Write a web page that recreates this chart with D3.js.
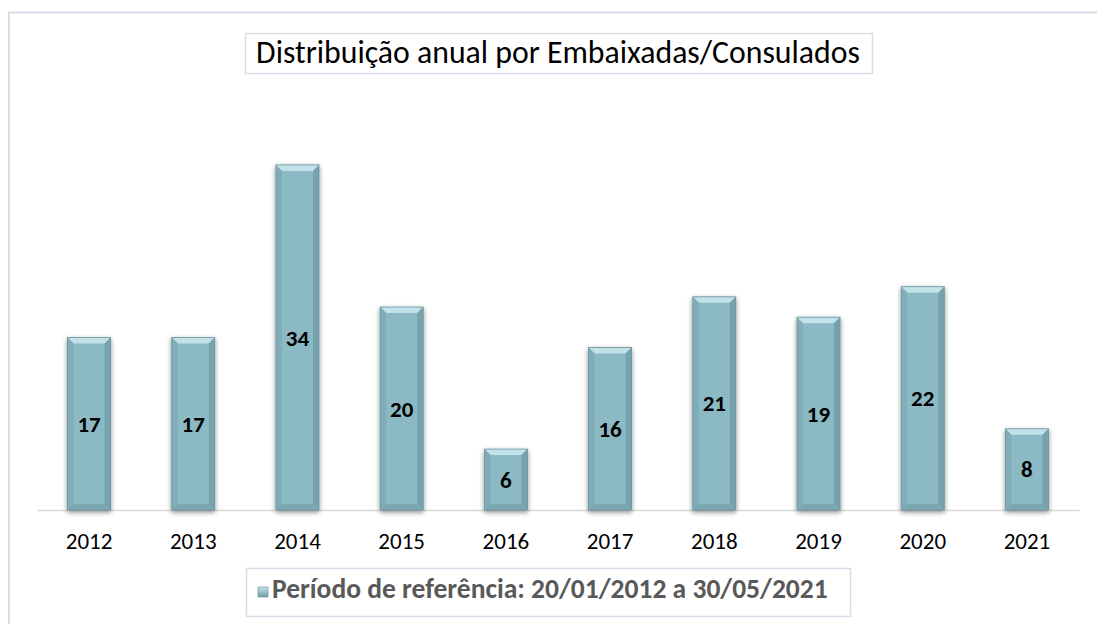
<!DOCTYPE html>
<html>
<head>
<meta charset="utf-8">
<script src="https://cdn.jsdelivr.net/npm/d3@7"></script>
<style>
  body { margin: 0; background: #fff; }
  text { font-family: Carlito, Lato, "Open Sans", sans-serif; }
</style>
</head>
<body>
<div id="chart"></div>
<script>
const years = ["2012", "2013", "2014", "2015", "2016", "2017", "2018", "2019", "2020", "2021"];
const counts = [17, 17, 34, 20, 6, 16, 21, 19, 22, 8];
const chartTitle = "Distribuição anual por Embaixadas/Consulados";
const legendLabel = "Período de referência: 20/01/2012 a 30/05/2021";

const width = 1098, height = 624;
const svg = d3.select("#chart").append("svg")
    .attr("width", width)
    .attr("height", height);

// scale text so it spans a given width (reference uses Calibri)
function fitWidth(sel, target) {
    const len = sel.node().getComputedTextLength();
    const fs = parseFloat(sel.attr("font-size"));
    sel.attr("font-size", fs * target / len);
}

const defs = svg.append("defs");
const sh = defs.append("filter").attr("id", "shadow")
    .attr("x", "-30%").attr("y", "-10%").attr("width", "160%").attr("height", "130%");
sh.append("feGaussianBlur").attr("in", "SourceAlpha").attr("stdDeviation", 2.5);
sh.append("feOffset").attr("dx", 0).attr("dy", 2).attr("result", "b");
sh.append("feComponentTransfer").append("feFuncA").attr("type", "linear").attr("slope", 0.45);
const mg = sh.append("feMerge");
mg.append("feMergeNode");
mg.append("feMergeNode").attr("in", "SourceGraphic");

// outer chart border
svg.append("path")
    .attr("d", `M9,${height + 5} V12.5 H${width - 1}`)
    .attr("fill", "none")
    .attr("stroke", "#d5dee8")
    .attr("stroke-width", 2);

const x = d3.scaleBand()
    .domain(years)
    .range([37, 1079])
    .paddingInner(0.587)
    .paddingOuter(0.293);

const y = d3.scaleLinear()
    .domain([0, 40])
    .range([510, 104]);

// axis
const axis = svg.append("g")
    .attr("transform", "translate(0,510)")
    .call(d3.axisBottom(x).tickSize(0).tickSizeOuter(0).tickPadding(23));
axis.attr("font-size", 23).attr("font-family", null);
axis.select(".domain").attr("stroke", "#d9d9d9").attr("stroke-width", 1.5);
axis.selectAll("text")
    .attr("font-size", 23)
    .attr("fill", "#000");

// bars with bevel
const bv = 6;
const bars = svg.append("g").selectAll("g")
    .data(years.map((yr, i) => ({ yr, v: counts[i] })))
    .join("g")
    .attr("filter", "url(#shadow)");

bars.each(function (d) {
    const g = d3.select(this);
    const x0 = x(d.yr), x1 = x0 + x.bandwidth();
    const y0 = y(d.v), y1 = y(0);
    g.append("rect").attr("x", x0).attr("y", y0)
        .attr("width", x1 - x0).attr("height", y1 - y0)
        .attr("fill", "#8cbac4");
    // top facet
    g.append("path")
        .attr("d", `M${x0},${y0} L${x1},${y0} L${x1 - bv},${y0 + bv} L${x0 + bv},${y0 + bv}Z`)
        .attr("fill", "#c2e1e8");
    // left facet
    g.append("path")
        .attr("d", `M${x0},${y0} L${x0 + bv},${y0 + bv} L${x0 + bv},${y1 - bv} L${x0},${y1}Z`)
        .attr("fill", "#80aeb8");
    // right facet
    g.append("path")
        .attr("d", `M${x1},${y0} L${x1 - bv},${y0 + bv} L${x1 - bv},${y1 - bv} L${x1},${y1}Z`)
        .attr("fill", "#74a2ac");
    // bottom facet
    g.append("path")
        .attr("d", `M${x0},${y1} L${x0 + bv},${y1 - bv} L${x1 - bv},${y1 - bv} L${x1},${y1}Z`)
        .attr("fill", "#7aa7b1");
    g.append("rect").attr("x", x0).attr("y", y0)
        .attr("width", x1 - x0).attr("height", y1 - y0)
        .attr("fill", "none").attr("stroke", "#6a949e").attr("stroke-width", 0.8);
});

// value labels
svg.append("g").selectAll("text")
    .data(counts)
    .join("text")
    .attr("x", (d, i) => x(years[i]) + x.bandwidth() / 2)
    .attr("y", d => (y(d) + y(0)) / 2)
    .attr("dy", "0.35em")
    .attr("text-anchor", "middle")
    .attr("font-size", 23)
    .attr("font-weight", "bold")
    .attr("fill", "#000")
    .text(d => d);

// title box
svg.append("rect")
    .attr("x", 245.5).attr("y", 33.5).attr("width", 627).attr("height", 40)
    .attr("fill", "#fff").attr("stroke", "#d5dee8").attr("stroke-width", 1.5);
const title = svg.append("text")
    .attr("x", 558).attr("y", 63)
    .attr("text-anchor", "middle")
    .attr("font-size", 26)
    .attr("fill", "#000")
    .text(chartTitle);
fitWidth(title, 604);

// legend
svg.append("rect")
    .attr("x", 246.5).attr("y", 568.5).attr("width", 604).attr("height", 48)
    .attr("fill", "#fff").attr("stroke", "#d5dee8").attr("stroke-width", 1.5);
const lg = defs.append("linearGradient").attr("id", "lgm")
    .attr("x1", 0).attr("y1", 0).attr("x2", 0).attr("y2", 1);
lg.append("stop").attr("offset", 0).attr("stop-color", "#c5e3ea");
lg.append("stop").attr("offset", 1).attr("stop-color", "#6e9ca6");
svg.append("rect")
    .attr("x", 258).attr("y", 587).attr("width", 10).attr("height", 10)
    .attr("fill", "url(#lgm)").attr("stroke", "#5f8a94").attr("stroke-width", 0.6);
const legText = svg.append("text")
    .attr("x", 272).attr("y", 598)
    .attr("font-size", 17)
    .attr("font-weight", "bold")
    .attr("fill", "#595959")
    .text(legendLabel);
fitWidth(legText, 556);
</script>
</body>
</html>
